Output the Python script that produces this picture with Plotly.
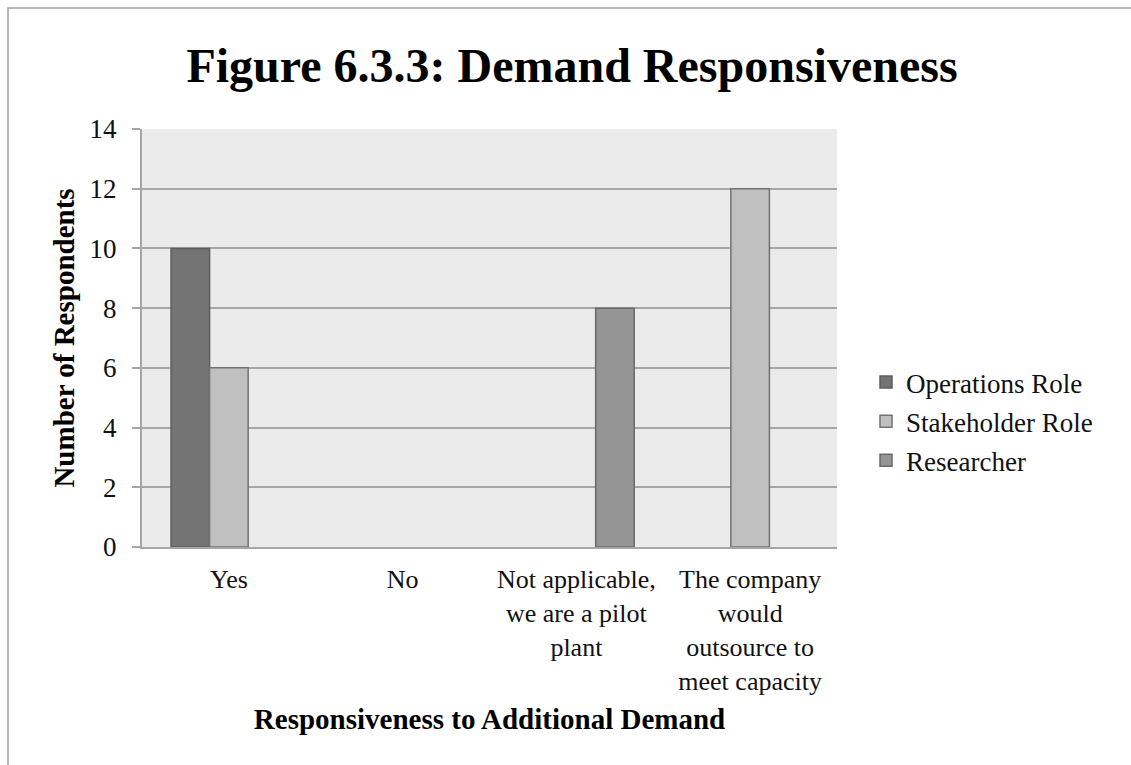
import plotly.graph_objects as go

# Survey responses by role
categories = ["Yes", "No", "Not applicable, we are a pilot plant",
              "The company would outsource to meet capacity"]
category_labels = ["Yes", "No", "Not applicable,<br>we are a pilot<br>plant",
                   "The company<br>would<br>outsource to<br>meet capacity"]
operations_role = [10, 0, 0, 0]
stakeholder_role = [6, 0, 0, 12]
researcher = [0, 0, 8, 0]
y_ticks = [0, 2, 4, 6, 8, 10, 12, 14]

FONT = "Liberation Serif"
GRID = "#a6a6a6"

series = [
    ("Operations Role", operations_role, "#747474", "#5e5e5e"),
    ("Stakeholder Role", stakeholder_role, "#c0c0c0", "#727272"),
    ("Researcher", researcher, "#959595", "#6a6a6a"),
]

fig = go.Figure()
for i, (name, vals, fill, edge) in enumerate(series):
    # a zero count draws no bar at all (not even an outline)
    shown = [v if v else None for v in vals]
    fig.add_trace(go.Bar(
        name=name, x=categories, y=shown,
        marker=dict(color=fill, line=dict(color=edge, width=1.5)),
        legendgroup=f"g{i}",
    ))

# plot area occupies x 142..837, y 129..547 in a 1131x765 page
L, R, T, B = 142, 294, 129, 218
W, H = 1131, 765
pw, ph = W - L - R, H - T - B

def px_x(p):
    return (p - L) / pw

def px_y(p):
    return (H - B - p) / ph

fig.update_layout(
    width=W, height=H,
    margin=dict(l=L, r=R, t=T, b=B, autoexpand=False),
    paper_bgcolor="white",
    plot_bgcolor="#ebebeb",
    barmode="group",
    bargap=0.334,
    bargroupgap=0,
    font=dict(family=FONT, size=27, color="#111111"),
    title=dict(
        text="<b>Figure 6.3.3: Demand Responsiveness</b>",
        font=dict(family=FONT, size=48, color="#000000"),
        x=572 / W, xanchor="center",
        y=1 - 65 / H, yanchor="middle", yref="container",
    ),
    legend=dict(
        x=px_x(866), xanchor="left",
        y=px_y(358), yanchor="top",
        font=dict(family=FONT, size=27, color="#111111"),
        tracegroupgap=1,
        bgcolor="rgba(0,0,0,0)",
        itemwidth=30,
    ),
    xaxis=dict(
        tickmode="array", tickvals=categories, ticktext=category_labels,
        showgrid=False, showline=True, linecolor=GRID, linewidth=2,
        ticks="", ticklabelstandoff=8,
        tickfont=dict(family=FONT, size=26, color="#111111"),
        title=dict(text="<b>Responsiveness to Additional Demand</b>",
                   font=dict(family=FONT, size=29, color="#000000"),
                   standoff=14),
        automargin=False,
    ),
    yaxis=dict(
        range=[0, 14], tickvals=y_ticks,
        showgrid=True, gridcolor=GRID, gridwidth=1.5,
        showline=True, linecolor=GRID, linewidth=2,
        ticks="outside", ticklen=8, tickcolor=GRID, tickwidth=1.5,
        ticklabelstandoff=10,
        tickfont=dict(family=FONT, size=27, color="#111111"),
        zeroline=False,
        title=dict(text="<b>Number of Respondents</b>",
                   font=dict(family=FONT, size=29, color="#000000"),
                   standoff=6),
        automargin=False,
    ),
)

# chart border, open at the right and bottom edges of the page
fig.add_shape(
    type="rect", xref="paper", yref="paper",
    x0=px_x(8), x1=px_x(1140), y0=px_y(775), y1=px_y(8),
    line=dict(color="#a0a0a0", width=1.5), fillcolor="rgba(0,0,0,0)",
    layer="below",
)

fig.write_html("out.html")
